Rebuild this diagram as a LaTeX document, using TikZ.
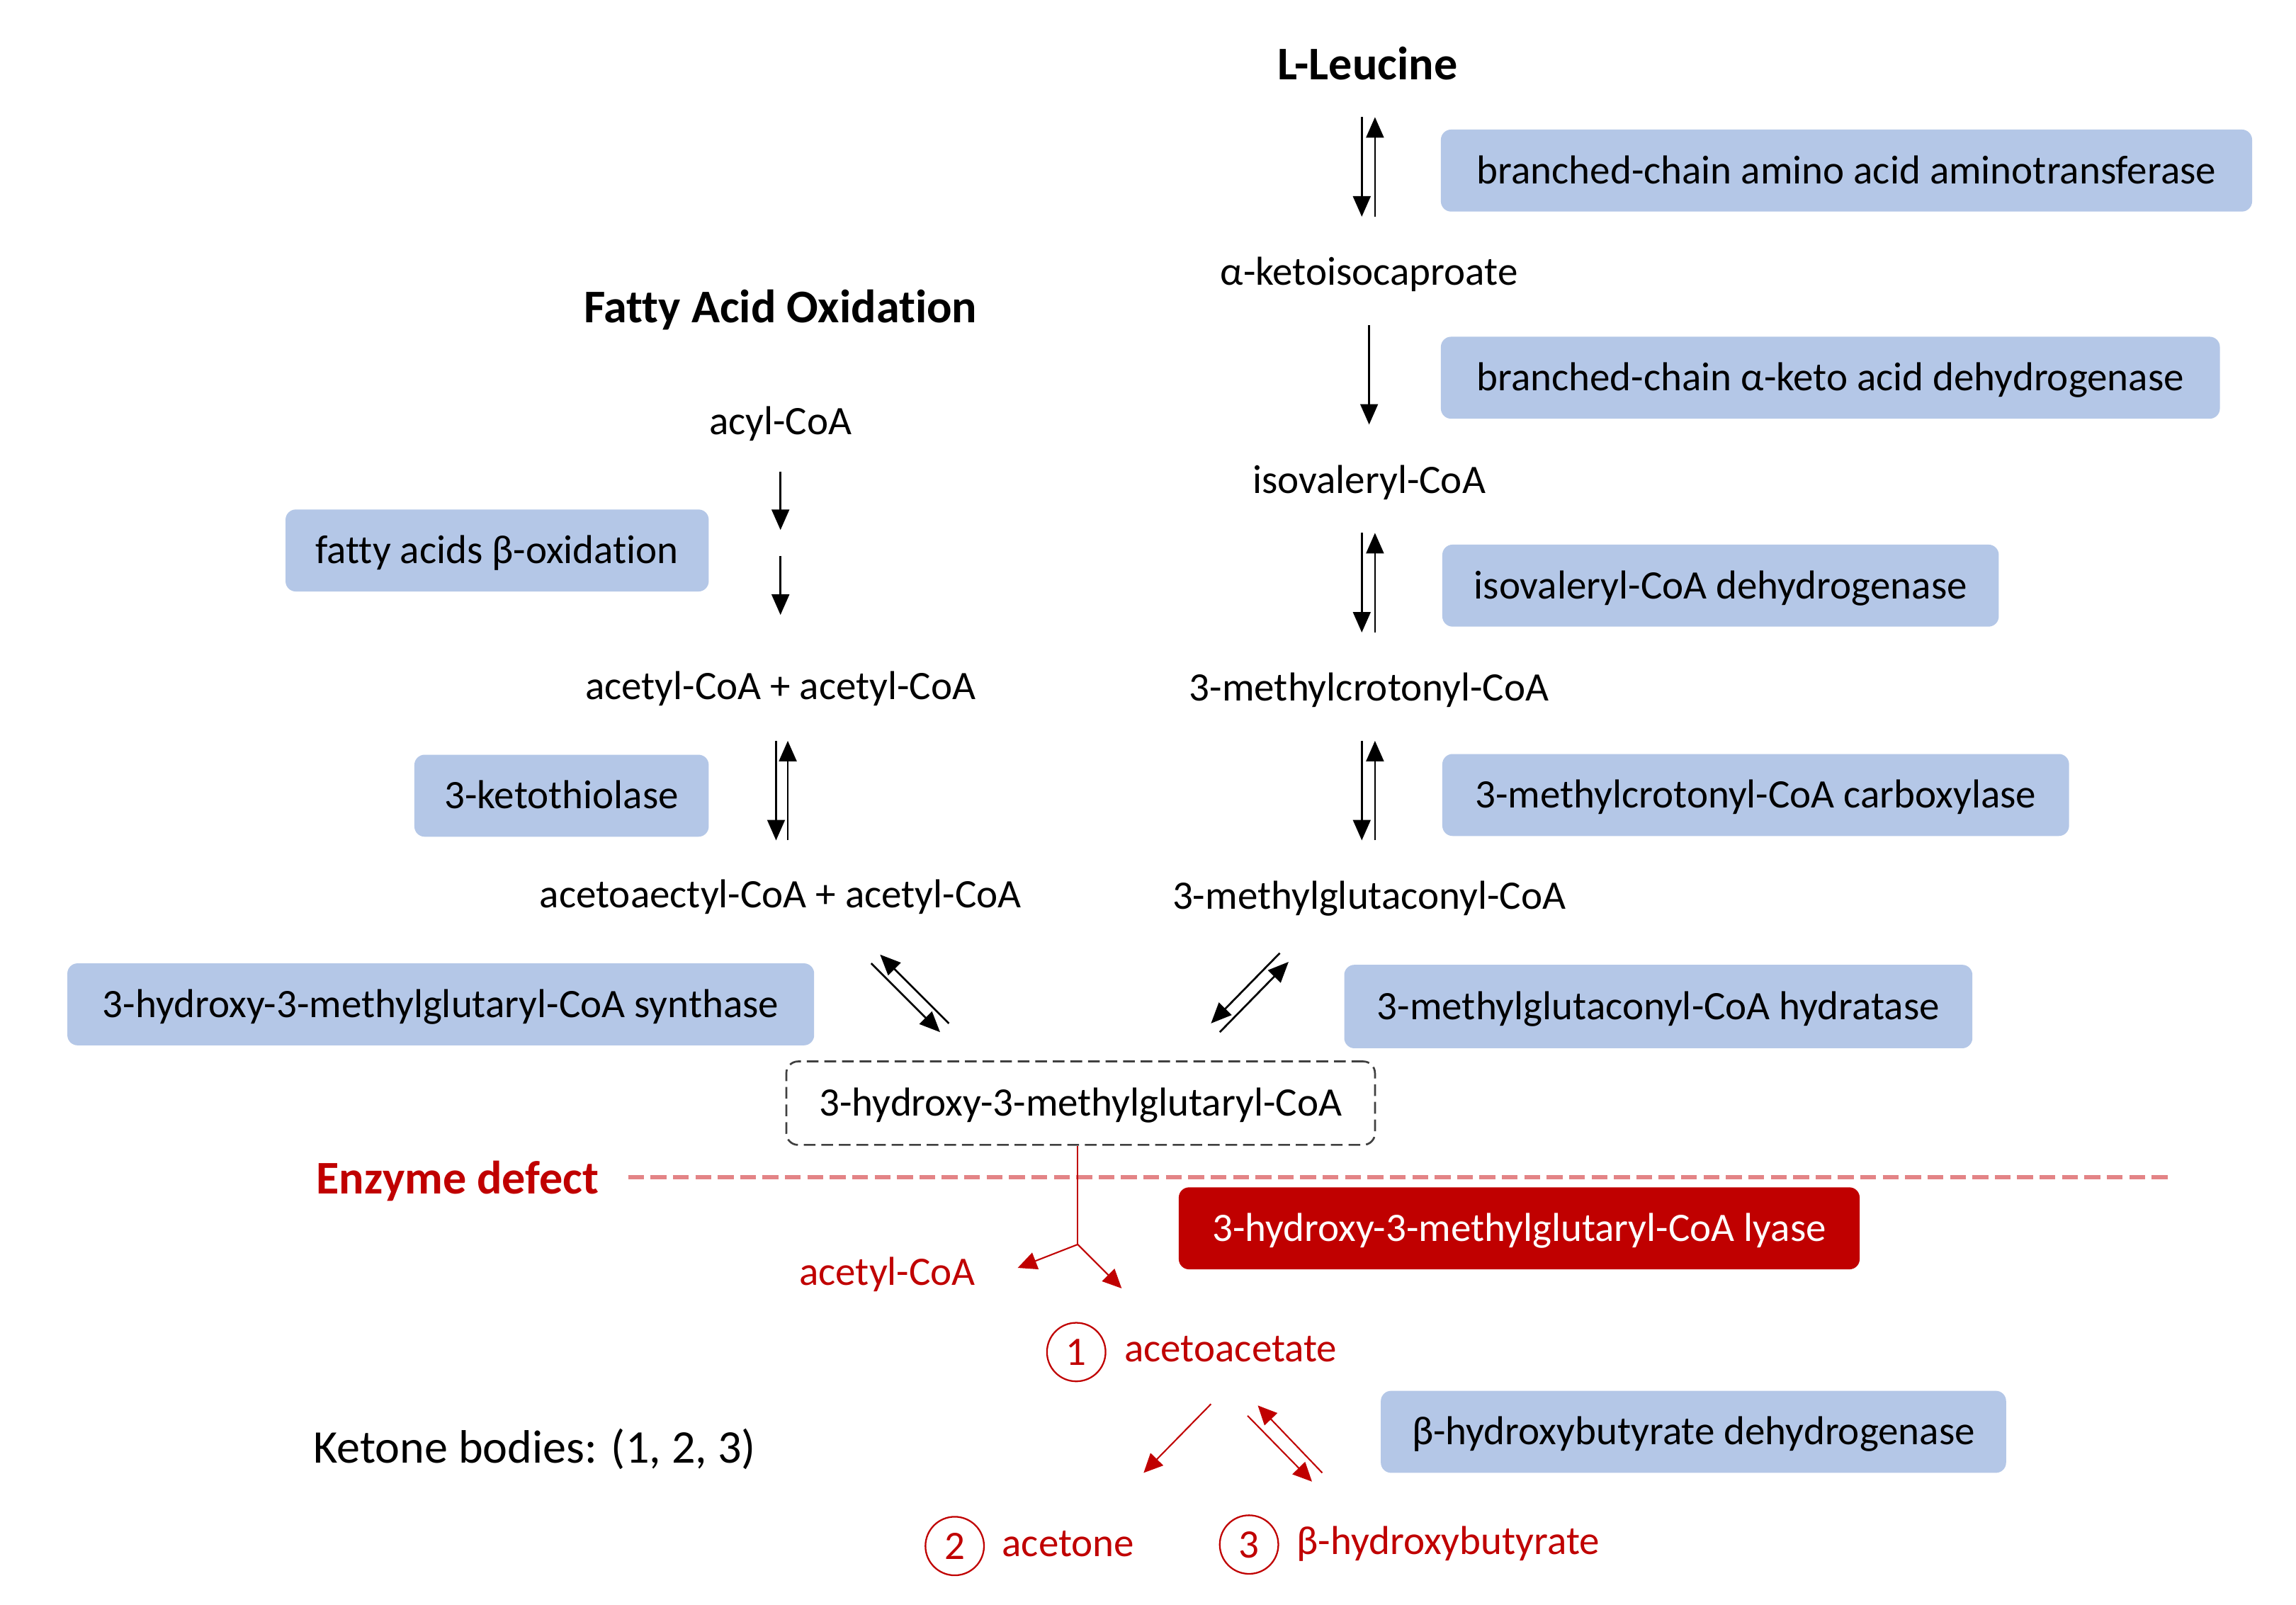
\documentclass[tikz,border=0pt]{standalone}
\usepackage{fontspec}
\setmainfont{Carlito}[Ligatures={NoCommon,NoContextual},RawFeature={-calt}]
\usetikzlibrary{arrows.meta}
\definecolor{enzblue}{HTML}{B4C7E7}
\definecolor{dred}{HTML}{C00000}
\definecolor{dashred}{HTML}{E38486}
\begin{document}
\begin{tikzpicture}[x=1pt,y=-1pt,
  txt/.style={inner sep=0pt, font=\fontsize{27.6}{33}\selectfont, text height=17.8pt, text depth=0pt},
  big/.style={inner sep=0pt, font=\fontsize{32}{38}\selectfont, text height=20.6pt, text depth=0pt},
  ttl/.style={big, font=\bfseries\fontsize{32}{38}\selectfont},
  enz/.style={txt, fill=enzblue, rounded corners=7pt, minimum height=56pt},
  rtxt/.style={txt, text=dred},
  num/.style={circle, draw=dred, line width=1.1pt, text=dred, minimum size=40pt, inner sep=0pt, font=\fontsize{27.6}{33}\selectfont},
  arr/.style={line width=1.3pt, -{Triangle[length=14pt,width=12pt]}},
  rarr/.style={draw=dred, line width=1pt, -{Triangle[length=13pt,width=12pt]}, dred}
]
\useasboundingbox[fill=white] (0,0) rectangle (1568,1096);

% titles
\node[ttl] (lleu) at (934,44) {L-Leucine};
\node[ttl] (fao) at (533,210) {Fatty Acid Oxidation};

% right column metabolites
\node[txt] (aki) at (935,186) {α-ketoisocaproate};
\node[txt] (iso) at (935,328) {isovaleryl-CoA};
\node[txt] (mcc) at (935,470) {3-methylcrotonyl-CoA};
\node[txt] (mgc) at (935,612) {3-methylglutaconyl-CoA};

% left column metabolites
\node[txt] (acyl) at (533,288) {acyl-CoA};
\node[txt] (aa) at (533,469) {acetyl-CoA + acetyl-CoA};
\node[txt] (aca) at (533,611) {acetoaectyl-CoA + acetyl-CoA};

% enzymes
\node[enz, minimum width=554pt] (e1) at (1261,116.5) {branched-chain amino acid aminotransferase};
\node[enz, minimum width=532pt] (e2) at (1250,258) {branched-chain α-keto acid dehydrogenase};
\node[enz, minimum width=380pt] (e3) at (1175,400) {isovaleryl-CoA dehydrogenase};
\node[enz, minimum width=428pt] (e4) at (1199,543) {3-methylcrotonyl-CoA carboxylase};
\node[enz, minimum width=429pt, minimum height=57pt] (e5) at (1132.5,687.5) {3-methylglutaconyl-CoA hydratase};
\node[enz, minimum width=289pt] (e6) at (339.5,376) {fatty acids β-oxidation};
\node[enz, minimum width=201pt] (e7) at (383.5,543.5) {3-ketothiolase};
\node[enz, minimum width=510pt] (e8) at (301,686) {3-hydroxy-3-methylglutaryl-CoA synthase};
\node[enz, fill=dred, text=white, minimum width=465pt] (e9) at (1037.5,839) {3-hydroxy-3-methylglutaryl-CoA lyase};
\node[enz, minimum width=427pt] (e10) at (1156.5,978) {β-hydroxybutyrate dehydrogenase};

% HMG-CoA
\node[txt, draw=black!75, dash pattern=on 8pt off 4pt, line width=1.3pt, rounded corners=8pt,
      minimum width=402pt, minimum height=57pt] (hmg) at (738,753.5) {3-hydroxy-3-methylglutaryl-CoA};

% enzyme defect
\node[ttl, text=dred] (defect) at (312.5,805) {Enzyme defect};
\coordinate (dl1) at (429,804);
\coordinate (dl2) at (1484,804);
\draw[dashred, line width=2.7pt, dash pattern=on 10.8pt off 4.5pt] (dl1) -- (dl2);

% products
\node[rtxt] (acoa) at (606,869) {acetyl-CoA};
\node[num] (n1) at (735,923.5) {1};
\node[rtxt] (acac) at (840.5,921) {acetoacetate};
\node[num] (n2) at (652,1056) {2};
\node[rtxt] (acet) at (729.5,1054) {acetone};
\node[num] (n3) at (853,1055) {3};
\node[rtxt] (bhb) at (989,1053) {β-hydroxybutyrate};
\node[big] (kb) at (365,989) {Ketone bodies: (1, 2, 3)};

% right column arrows
\coordinate (r1a) at (930,80);  \coordinate (r1b) at (930,148);
\coordinate (r1c) at (939,148); \coordinate (r1d) at (939,80);
\draw[arr] (r1a) -- (r1b);
\draw[arr] (r1c) -- (r1d);
\coordinate (r2a) at (935,222); \coordinate (r2b) at (935,290);
\draw[arr] (r2a) -- (r2b);
\coordinate (r3a) at (930,364);  \coordinate (r3b) at (930,432);
\coordinate (r3c) at (939,432); \coordinate (r3d) at (939,364);
\draw[arr] (r3a) -- (r3b);
\draw[arr] (r3c) -- (r3d);
\coordinate (r4a) at (930,506);  \coordinate (r4b) at (930,574);
\coordinate (r4c) at (939,574); \coordinate (r4d) at (939,506);
\draw[arr] (r4a) -- (r4b);
\draw[arr] (r4c) -- (r4d);
\coordinate (r5a) at (874,651); \coordinate (r5b) at (827,699);
\coordinate (r5c) at (833,705); \coordinate (r5d) at (880,657);
\draw[arr] (r5a) -- (r5b);
\draw[arr] (r5c) -- (r5d);

% left column arrows
\coordinate (l1a) at (533,322); \coordinate (l1b) at (533,362);
\coordinate (l2a) at (533,380); \coordinate (l2b) at (533,420);
\draw[arr] (l1a) -- (l1b);
\draw[arr] (l2a) -- (l2b);
\coordinate (l3a) at (530,506);  \coordinate (l3b) at (530,574);
\coordinate (l3c) at (538,574); \coordinate (l3d) at (538,506);
\draw[arr] (l3a) -- (l3b);
\draw[arr] (l3c) -- (l3d);
\coordinate (l4a) at (595,658); \coordinate (l4b) at (642,705);
\coordinate (l4c) at (648,699); \coordinate (l4d) at (601,652);
\draw[arr] (l4a) -- (l4b);
\draw[arr] (l4c) -- (l4d);

% red lyase split
\coordinate (split) at (736,850);
\coordinate (sa) at (695,866);
\coordinate (sb) at (766,880);
\draw[dred, line width=1pt] (hmg.south -| split) -- (split);
\draw[rarr] (split) -- (sa);
\draw[rarr] (split) -- (sb);

% ketone body conversions
\coordinate (k1a) at (827,959); \coordinate (k1b) at (781,1006);
\draw[rarr] (k1a) -- (k1b);
\coordinate (k2a) at (852,967); \coordinate (k2b) at (896,1012);
\coordinate (k2c) at (903,1006); \coordinate (k2d) at (859,960);
\draw[rarr] (k2a) -- (k2b);
\draw[rarr] (k2c) -- (k2d);
\end{tikzpicture}
\end{document}
